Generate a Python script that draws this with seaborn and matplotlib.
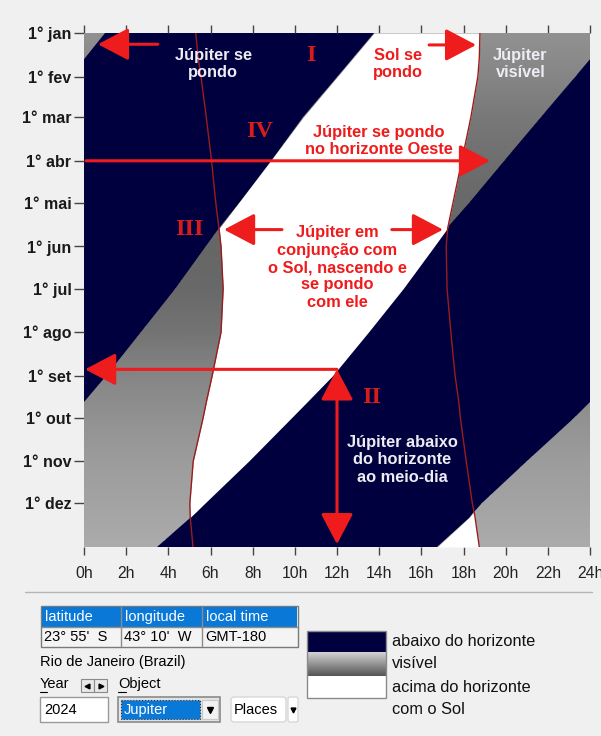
import numpy as np
import matplotlib
matplotlib.use('Agg')
import matplotlib.pyplot as plt
from matplotlib.path import Path
from matplotlib.patches import Rectangle, FancyBboxPatch
from matplotlib.colors import LinearSegmentedColormap
import seaborn as sns

days = [0, 18, 31, 60, 91, 121, 139, 152, 182, 213, 244, 263, 274, 305, 335, 341, 345, 366]
# Jupiter rising / setting, local hours (not wrapped at midnight)
jup_rise = [13.76, 12.75, 12.02, 10.39, 8.85, 7.33, 6.41, 5.80, 4.33, 2.70, 1.02, 0.0,
            -0.78, -2.97, -5.10, -5.52, -5.73, -7.25]
jup_set = [25.0, 24.03, 23.30, 21.67, 19.93, 18.25, 17.24, 16.61, 15.14, 13.49, 11.79, 10.56,
           9.84, 7.80, 5.72, 5.31, 5.03, 3.46]
# Sun rising / setting, local hours
sun_rise = [5.30, 5.42, 5.55, 5.80, 6.05, 6.25, 6.40, 6.50, 6.60, 6.50, 6.08, 5.80,
            5.65, 5.18, 5.02, 5.03, 5.04, 5.17]
sun_set = [18.78, 18.75, 18.68, 18.35, 17.92, 17.50, 17.25, 17.18, 17.22, 17.40, 17.60, 17.78,
           17.85, 18.13, 18.42, 18.50, 18.55, 18.75]

month_days = [0, 31, 60, 91, 121, 152, 182, 213, 244, 274, 305, 335]
month_labels = ['1° jan', '1° fev', '1° mar', '1° abr', '1° mai', '1° jun',
                '1° jul', '1° ago', '1° set', '1° out', '1° nov', '1° dez']
hour_ticks = [0, 2, 4, 6, 8, 10, 12, 14, 16, 18, 20, 22, 24]
hour_labels = [f'{h}h' for h in hour_ticks]
# grey level of the "visible" band at each month start (+ end of year)
visible_shade = [0.57, 0.52, 0.47, 0.43, 0.41, 0.40, 0.41, 0.45, 0.52, 0.57, 0.61, 0.64, 0.67]

navy = '#00003f'
red = '#ee1c1c'
num_red = '#d81c1c'
line_red = '#9c1c1c'
white_txt = '#ececf2'

sns.set_theme(style='white')
plt.rcParams['font.family'] = ['Liberation Sans', 'DejaVu Sans']

fig = plt.figure(figsize=(6.01, 7.36), dpi=100, facecolor='#f0f0f0')

# pixel canvas for the window furniture
ui = fig.add_axes([0, 0, 1, 1])
ui.set_xlim(0, 601)
ui.set_ylim(736, 0)
ui.axis('off')
ui.patch.set_visible(False)

ax = fig.add_axes([84 / 601, 1 - 547 / 736, 506 / 601, 514 / 736])
ax.set_facecolor(navy)
ax.set_xlim(0, 24)
ax.set_ylim(366, 0)

d = np.array(days)
r = np.array(jup_rise)
s = np.array(jup_set)
sr = np.array(sun_rise)
ss = np.array(sun_set)

# Jupiter above horizon -> grey gradient
up_paths = []
for k in (-24, 0, 24):
    poly = ax.fill_betweenx(d, r + k, s + k, facecolor='none', edgecolor='none')
    up_paths.append(poly.get_paths()[0])
shade = np.array(visible_shade)
mesh = ax.pcolormesh([0, 24], month_days + [366], np.column_stack([shade, shade]),
                     cmap='gray', vmin=0, vmax=1, shading='gouraud', zorder=1)
mesh.set_clip_path(Path.make_compound_path(*up_paths), ax.transData)

# Jupiter above horizon while the Sun is up -> white
for k in (-24, 0, 24):
    lo = np.maximum(r + k, sr)
    hi = np.minimum(s + k, ss)
    ax.fill_betweenx(d, lo, hi, where=lo < hi, interpolate=True,
                     color='white', lw=0, zorder=2)

sns.lineplot(x=sun_rise, y=days, sort=False, estimator=None, color=line_red, lw=1.0, ax=ax, zorder=3)
sns.lineplot(x=sun_set, y=days, sort=False, estimator=None, color=line_red, lw=1.0, ax=ax, zorder=3)

ax.set_xlim(0, 24)
ax.set_ylim(366, 0)
ax.set_xlabel('')
ax.set_ylabel('')
ax.set_xticks(hour_ticks)
ax.set_xticklabels(hour_labels)
ax.set_yticks(month_days)
ax.set_yticklabels(month_labels, fontweight='bold')
ax.tick_params(axis='x', bottom=True, top=True, direction='out', length=6, width=1,
               color='#444444', pad=8, labelsize=11.3, labelcolor='#222222')
ax.tick_params(axis='y', left=True, direction='out', length=7, width=1,
               color='#444444', pad=2, labelsize=11.5, labelcolor='#1a1a1a')
for sp in ax.spines.values():
    sp.set_visible(False)


def arrow(tail, tip, style='-|>'):
    ax.annotate('', xy=tip, xytext=tail, zorder=5,
                arrowprops=dict(arrowstyle=f'{style},head_length=19,head_width=10',
                                mutation_scale=1, lw=2.2, color=red,
                                shrinkA=0, shrinkB=0))


arrow((3.5, 8), (0.66, 8))
arrow((16.37, 8.5), (18.6, 8.5))
arrow((0.1, 91), (19.26, 91))
arrow((9.39, 140), (6.64, 140))
arrow((14.6, 140), (17.03, 140))
arrow((12, 239.5), (0.05, 239.5))
arrow((12, 239.5), (12, 364), style='<|-|>')

bold = dict(fontsize=11.8, fontweight='bold', ha='center', va='center', linespacing=1.2, zorder=6)
ax.text(6.12, 22, 'Júpiter se\npondo', color=white_txt, **bold)
ax.text(14.9, 22, 'Sol se\npondo', color=red, **bold)
ax.text(20.7, 22, 'Júpiter\nvisível', color=white_txt, **bold)
ax.text(14.0, 77, 'Júpiter se pondo\nno horizonte Oeste', color=red, **bold)
ax.text(12.0, 167, 'Júpiter em\nconjunção com\no Sol, nascendo e\nse pondo\ncom ele', color=red, **bold)
ax.text(15.1, 304, 'Júpiter abaixo\ndo horizonte\nao meio-dia', color=white_txt, **bold)

num = dict(fontsize=17.5, fontweight='bold', family='Liberation Serif', color=num_red,
           ha='center', va='center', zorder=6)
ax.text(10.77, 16, 'I', **num)
ax.text(8.35, 70, 'IV', **num)
ax.text(4.98, 140, 'III', **num)
ax.text(13.66, 259.5, 'II', **num)

# ---- window furniture below the chart ----
ui.plot([25, 592], [592, 592], color='#b4b4b4', lw=1)

blue = '#0a78d7'
ui.add_patch(Rectangle((41, 606), 257, 41, facecolor='#f4f4f4', edgecolor='#7a7a7a', lw=1))
ui.add_patch(Rectangle((42, 607), 255, 20, facecolor=blue, edgecolor='none'))
for xv in (121, 202):
    ui.plot([xv, xv], [607, 646], color='#8c8c8c', lw=1)
ui.plot([42, 297], [627, 627], color='#8c8c8c', lw=1)
small = dict(fontsize=10.5, va='center', ha='left')
ui.text(45, 617, 'latitude', color='white', **small)
ui.text(125, 617, 'longitude', color='white', **small)
ui.text(206, 617, 'local time', color='white', **small)
ui.text(44, 637, "23° 55'  S", color='black', **small)
ui.text(124, 637, "43° 10'  W", color='black', **small)
ui.text(205, 637, 'GMT-180', color='black', **small)
ui.text(40, 662, 'Rio de Janeiro (Brazil)', color='black', **small)
ui.text(40, 684, 'Year', color='black', **small)
ui.plot([40, 47], [692, 692], color='black', lw=0.8)
ui.add_patch(Rectangle((81, 679), 13, 13, facecolor='#e8e8e8', edgecolor='#8a8a8a', lw=0.8))
ui.add_patch(Rectangle((94, 679), 13, 13, facecolor='#e8e8e8', edgecolor='#8a8a8a', lw=0.8))
ui.plot([87], [685.5], marker='<', ms=3.5, color='black')
ui.plot([100.5], [685.5], marker='>', ms=3.5, color='black')
ui.text(118, 684, 'Object', color='black', **small)
ui.plot([118, 126], [692, 692], color='black', lw=0.8)

ui.add_patch(Rectangle((40, 697), 68, 25, facecolor='white', edgecolor='#9a9a9a', lw=1))
ui.text(44, 710, '2024', color='black', **small)
ui.add_patch(Rectangle((118, 697), 102, 25, facecolor='#e4e4e4', edgecolor='#8a8a8a', lw=1.2))
ui.add_patch(Rectangle((121, 700), 79, 19, facecolor=blue, edgecolor='#333333', lw=0.8, ls=':'))
ui.text(124, 710, 'Jupiter', color='white', **small)
ui.add_patch(Rectangle((202, 700), 16, 19, facecolor='#f2f2f2', edgecolor='#c8c8c8', lw=0.8))
ui.plot([210], [710], marker='v', ms=5, color='black')
ui.add_patch(FancyBboxPatch((231, 697), 55, 25, boxstyle='round,pad=0,rounding_size=3',
                            facecolor='white', edgecolor='#d8d8d8', lw=1))
ui.text(234, 710, 'Places', color='black', **small)
ui.add_patch(FancyBboxPatch((288, 697), 10, 25, boxstyle='round,pad=0,rounding_size=2',
                            facecolor='white', edgecolor='#d8d8d8', lw=1))
ui.plot([293], [710], marker='v', ms=3.5, color='black')

# legend swatches
ui.add_patch(Rectangle((307, 631), 79, 21, facecolor=navy, edgecolor='none'))
grad = LinearSegmentedColormap.from_list('vis', ['#d2d2d2', '#555555'])
ui.imshow(np.linspace(0, 1, 50)[:, None], cmap=grad, aspect='auto',
          extent=[307, 386, 676, 652], interpolation='bilinear')
ui.add_patch(Rectangle((307, 676), 79, 22, facecolor='white', edgecolor='none'))
ui.add_patch(Rectangle((307, 631), 79, 67, facecolor='none', edgecolor='#8a8a8a', lw=1))
ui.set_xlim(0, 601)
ui.set_ylim(736, 0)
leg = dict(fontsize=11.8, va='center', ha='left', color='#111111')
ui.text(392, 641, 'abaixo do horizonte', **leg)
ui.text(392, 664, 'visível', **leg)
ui.text(392, 688, 'acima do horizonte', **leg)
ui.text(392, 709, 'com o Sol', **leg)

fig.savefig('out.png', dpi=100, facecolor=fig.get_facecolor())
